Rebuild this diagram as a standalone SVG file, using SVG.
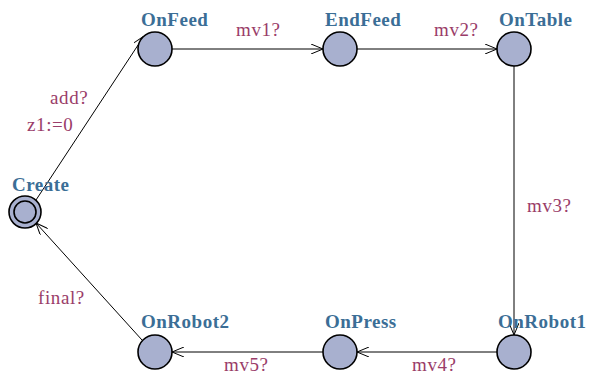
<svg xmlns="http://www.w3.org/2000/svg" width="589" height="374" viewBox="0 0 589 374">
  <style>
    .loc { fill: #a8b0cf; stroke: #000; stroke-width: 1.6; }
    .name { font-family: "Liberation Serif", serif; font-weight: bold; font-size: 19px; letter-spacing: 0.5px; fill: #3b6e96; }
    .lbl { font-family: "Liberation Serif", serif; font-size: 19px; letter-spacing: 0.6px; fill: #9a3d69; }
    .edge { fill: none; stroke: #000; stroke-width: 1; marker-end: url(#arr); }
  </style>
  <defs>
    <marker id="arr" viewBox="0 0 12 10" refX="12" refY="5" markerWidth="12" markerHeight="10" markerUnits="userSpaceOnUse" orient="auto">
      <path d="M0,0 L12,5 L0,10" fill="none" stroke="#000" stroke-width="1"/>
    </marker>
  </defs>
  <rect width="589" height="374" fill="#fff"/>

  <g id="connectors">
    <line class="edge" x1="36" y1="200" x2="144" y2="36"/>
    <line class="edge" x1="172" y1="49" x2="323" y2="49"/>
    <line class="edge" x1="357" y1="49" x2="497" y2="49"/>
    <line class="edge" x1="514" y1="66" x2="514" y2="335"/>
    <line class="edge" x1="497" y1="352" x2="357" y2="352"/>
    <line class="edge" x1="323" y1="352" x2="172" y2="352"/>
    <line class="edge" x1="142" y1="340" x2="36" y2="223"/>
    <text class="lbl" x="50" y="104">add?</text>
    <text class="lbl" x="27" y="131">z1:=0</text>
    <text class="lbl" x="236" y="36">mv1?</text>
    <text class="lbl" x="434" y="36">mv2?</text>
    <text class="lbl" x="527" y="212">mv3?</text>
    <text class="lbl" x="412" y="371">mv4?</text>
    <text class="lbl" x="224" y="371">mv5?</text>
    <text class="lbl" x="38" y="304">final?</text>
  </g>

  <g id="Create">
    <circle class="loc" cx="25" cy="212" r="16"/>
    <circle class="loc" cx="25" cy="212" r="11"/>
    <text class="name" x="12" y="191">Create</text>
  </g>
  <g id="OnFeed">
    <circle class="loc" cx="155" cy="49" r="17"/>
    <text class="name" x="141" y="26">OnFeed</text>
  </g>
  <g id="EndFeed">
    <circle class="loc" cx="340" cy="49" r="17"/>
    <text class="name" x="325" y="26">EndFeed</text>
  </g>
  <g id="OnTable">
    <circle class="loc" cx="514" cy="49" r="17"/>
    <text class="name" x="499" y="26">OnTable</text>
  </g>
  <g id="OnRobot1">
    <circle class="loc" cx="514" cy="352" r="17"/>
    <text class="name" x="498" y="328">OnRobot1</text>
  </g>
  <g id="OnPress">
    <circle class="loc" cx="340" cy="352" r="17"/>
    <text class="name" x="325" y="328">OnPress</text>
  </g>
  <g id="OnRobot2">
    <circle class="loc" cx="155" cy="352" r="17"/>
    <text class="name" x="141" y="328">OnRobot2</text>
  </g>
</svg>
